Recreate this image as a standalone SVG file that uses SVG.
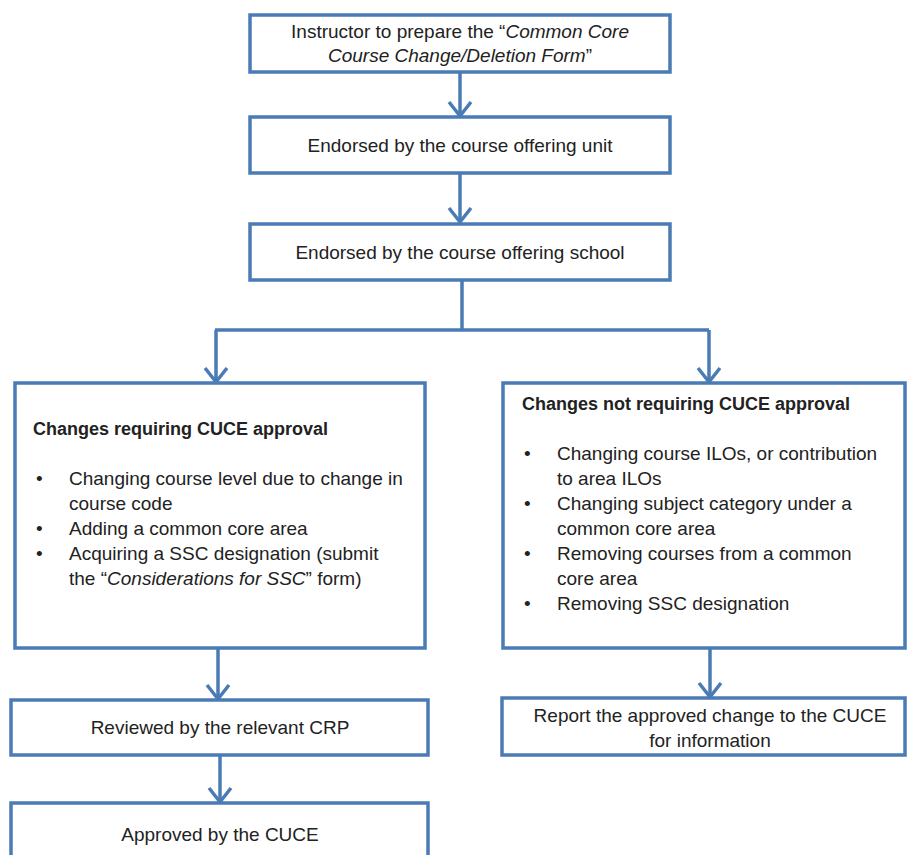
<svg xmlns="http://www.w3.org/2000/svg" width="908" height="855" viewBox="0 0 908 855">
<style>
.box{fill:#fff;stroke:#4a7bb4;stroke-width:3.5}
.con{fill:none;stroke:#4a7bb4;stroke-width:3.5}
.ah{fill:none;stroke:#4a7bb4;stroke-width:3.5;stroke-linejoin:miter}
text{font-family:"Liberation Sans",Arial,sans-serif;font-size:19px;fill:#222}
.c{text-anchor:middle}
.b{font-weight:bold;font-size:18px}
</style>
<rect width="908" height="855" fill="#fff"/>
<g id="connectors">
<path class="con" d="M460 72V116"/>
<path class="ah" d="M449 102L460 116L471 102"/>
<path class="con" d="M460 173V222"/>
<path class="ah" d="M449 208L460 222L471 208"/>
<path class="con" d="M462 280V330M215 330H709"/>
<path class="con" d="M216 330V382"/>
<path class="ah" d="M205 368L216 382L227 368"/>
<path class="con" d="M709 330V382"/>
<path class="ah" d="M698 368L709 382L720 368"/>
<path class="con" d="M218 648V699"/>
<path class="ah" d="M207 685L218 699L229 685"/>
<path class="con" d="M710 648V697"/>
<path class="ah" d="M699 683L710 697L721 683"/>
<path class="con" d="M220 755V802"/>
<path class="ah" d="M209 788L220 802L231 788"/>
</g>
<g id="n1"><rect class="box" x="250" y="15" width="420" height="57"/>
<text class="c" x="460" y="38">Instructor to prepare the “<tspan font-style="italic">Common Core</tspan></text>
<text class="c" x="460" y="62"><tspan font-style="italic">Course Change/Deletion Form</tspan>”</text></g>
<g id="n2"><rect class="box" x="250" y="117" width="420" height="56"/>
<text class="c" x="460" y="152">Endorsed by the course offering unit</text></g>
<g id="n3"><rect class="box" x="250" y="224" width="420" height="56"/>
<text class="c" x="460" y="259">Endorsed by the course offering school</text></g>
<g id="n4"><rect class="box" x="15" y="383" width="410" height="265"/>
<text class="b" x="33" y="435">Changes requiring CUCE approval</text>
<text x="36" y="485">•</text><text x="69" y="485">Changing course level due to change in</text>
<text x="69" y="510">course code</text>
<text x="36" y="535">•</text><text x="69" y="535">Adding a common core area</text>
<text x="36" y="560">•</text><text x="69" y="560">Acquiring a SSC designation (submit</text>
<text x="69" y="585">the “<tspan font-style="italic">Considerations for SSC</tspan>” form)</text></g>
<g id="n5"><rect class="box" x="503" y="383" width="402" height="265"/>
<text class="b" x="522" y="410">Changes not requiring CUCE approval</text>
<text x="524" y="460">•</text><text x="557" y="460">Changing course ILOs, or contribution</text>
<text x="557" y="485">to area ILOs</text>
<text x="524" y="510">•</text><text x="557" y="510">Changing subject category under a</text>
<text x="557" y="535">common core area</text>
<text x="524" y="560">•</text><text x="557" y="560">Removing courses from a common</text>
<text x="557" y="585">core area</text>
<text x="524" y="610">•</text><text x="557" y="610">Removing SSC designation</text></g>
<g id="n6"><rect class="box" x="11" y="700" width="417" height="55"/>
<text class="c" x="220" y="734">Reviewed by the relevant CRP</text></g>
<g id="n7"><rect class="box" x="11" y="803" width="417" height="60"/>
<text class="c" x="220" y="841">Approved by the CUCE</text></g>
<g id="n8"><rect class="box" x="502" y="698" width="403" height="57"/>
<text class="c" x="710" y="722">Report the approved change to the CUCE</text>
<text class="c" x="710" y="747">for information</text></g>
</svg>
